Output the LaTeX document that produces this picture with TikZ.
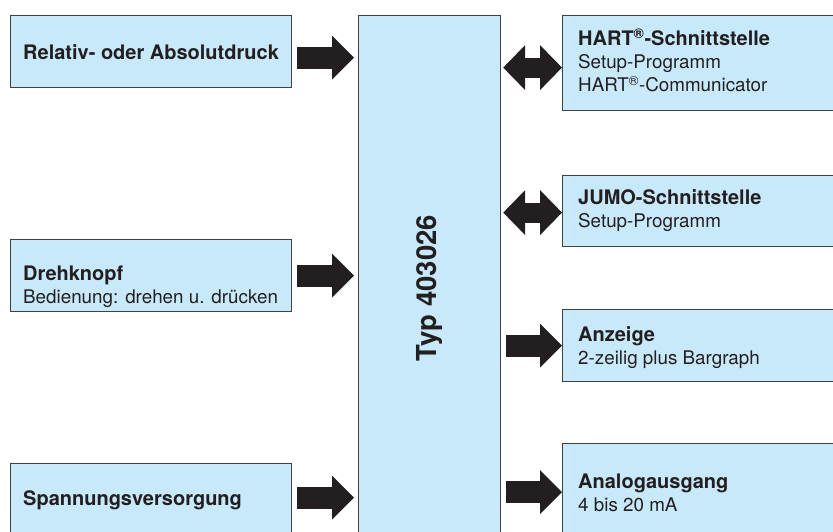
\documentclass[tikz,border=0pt]{standalone}
\usepackage{fontspec}
\setmainfont{TeX Gyre Heros}
\usetikzlibrary{positioning,calc,arrows.meta}
\usepackage{xcolor}
\definecolor{boxblue}{RGB}{199,233,249}
\definecolor{boxline}{RGB}{64,64,64}
\definecolor{inkblack}{RGB}{35,31,32}
\newcommand{\boxhead}[1]{{\fontsize{20}{23}\selectfont\bfseries #1}}

\begin{document}
\begin{tikzpicture}[
    x=1pt, y=-1pt,
    box/.style={draw=boxline, fill=boxblue, line width=1.2pt, inner sep=0pt, anchor=north west},
    lbox/.style={box, minimum width=281pt, minimum height=72pt},
    rbox/.style={box, minimum width=300pt},
    txt/.style={anchor=base west, align=left, inner sep=0pt, text=inkblack, font=\fontsize{18.8}{23}\selectfont},
    fat/.style={inkblack, line width=22pt, -{Triangle[length=22pt, width=44pt, line width=0pt]}},
    fatboth/.style={inkblack, line width=20pt, {Triangle[length=22pt, width=45pt, line width=0pt]}-{Triangle[length=22pt, width=45pt, line width=0pt]}},
]
\useasboundingbox (0,0) rectangle (833,532);
\clip (0,0) rectangle (833,532);

% Boxes left
\node[lbox] (relativ) at (10,15)  {};
\node[lbox] (dreh)    at (10,239) {};
\node[lbox] (spann)   at (10,463) {};

% Center box
\node[box, minimum width=142pt, minimum height=525pt] (typ) at (358,15) {};
\node[rotate=90, text=inkblack, font=\fontsize{27.5}{33}\selectfont\bfseries] (typ-txt) at ($(typ.center)+(0,10)$) {Typ 403026};

% Boxes right
\node[rbox, minimum height=95pt] (hart)    at (562,15)  {};
\node[rbox, minimum height=71pt] (jumo)    at (562,175) {};
\node[rbox, minimum height=72pt] (anzeige) at (562,309) {};
\node[rbox, minimum height=97pt] (analog)  at (562,443) {};

% Texts (anchored at the baseline of the last line)
\node[txt] (relativ-txt) at (23,60)  {\boxhead{Relativ- oder Absolutdruck}};
\node[txt] (dreh-txt)    at (23,303) {\boxhead{Drehknopf}\\Bedienung: drehen u. drücken};
\node[txt] (spann-txt)   at (23,505) {\boxhead{Spannungsversorgung}};
\node[txt] (hart-txt)    at (578,92)  {\boxhead{HART\textsuperscript{\textregistered}-Schnittstelle}\\Setup-Programm\\HART\textsuperscript{\textregistered}-Communicator};
\node[txt] (jumo-txt)    at (578,227) {\boxhead{JUMO-Schnittstelle}\\Setup-Programm};
\node[txt] (anzeige-txt) at (578,364) {\boxhead{Anzeige}\\2-zeilig plus Bargraph};
\node[txt] (analog-txt)  at (578,511) {\boxhead{Analogausgang}\\4 bis 20 mA};

% Arrows in
\draw[fat] ($(relativ.east)+(5,6)$) -- ($(relativ.east -| typ.west)+(-4,6)$);
\draw[fat] ($(dreh.east)+(5,0)$)    -- ($(dreh.east -| typ.west)+(-4,0)$);
\draw[fat] ($(spann.east)+(5,-2)$)  -- ($(spann.east -| typ.west)+(-4,-2)$);

% Arrows out
\draw[fatboth] ($(hart.west -| typ.east)+(2,4.5)$) -- ($(hart.west)+(0,4.5)$);
\draw[fatboth] ($(jumo.west -| typ.east)+(2,1.5)$) -- ($(jumo.west)+(0,1.5)$);
\draw[fat] ($(anzeige.west -| typ.east)+(5,0)$) -- (anzeige.west);
\draw[fat] ($(analog.west -| typ.east)+(5,0)$)  -- (analog.west);

\end{tikzpicture}
\end{document}
